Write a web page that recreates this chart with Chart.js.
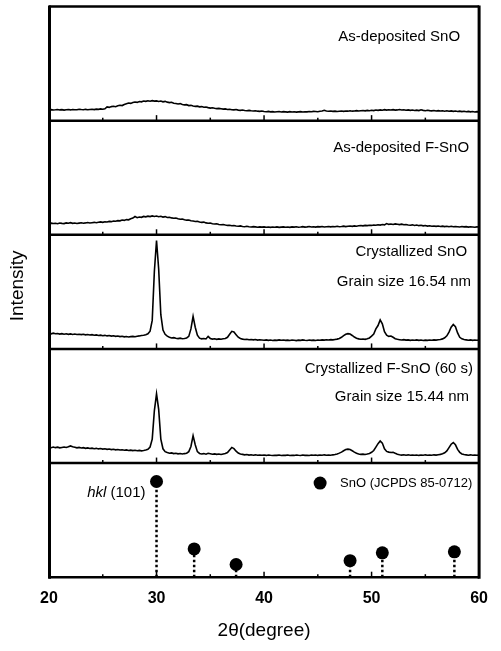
<!DOCTYPE html>
<html>
<head>
<meta charset="utf-8">
<script src="https://cdn.jsdelivr.net/npm/chart.js@4.4.1/dist/chart.umd.min.js"></script>
<style>
    html, body { margin: 0; padding: 0; background: #fff; }
    canvas { display: block; }
</style>
</head>
<body>
<canvas id="xrdChart" width="501" height="651"></canvas>
<script>
// scan grid (2theta, degree)
const scanStart = 20;
const scanStep = 0.2;

// intensities, a.u. (each panel 0-100)
const asDepSnO = [
    9.2, 9.6, 9.3, 9.5, 9.8, 9.4, 9.6, 9.2, 9.5, 9.7,
    9.4, 9.8, 9.5, 9.6, 10.0, 9.7, 9.5, 9.9, 9.6, 9.8,
    10.0, 9.7, 10.1, 9.9, 10.3, 10.0, 10.4, 12.0, 11.6, 12.3,
    12.6, 12.2, 13.0, 13.5, 13.2, 14.2, 14.8, 15.4, 15.1, 15.9,
    16.3, 16.0, 16.8, 16.5, 17.2, 16.9, 17.4, 17.0, 17.5, 17.1,
    17.3, 16.8, 17.2, 16.5, 16.9, 16.2, 15.8, 16.1, 15.3, 15.0,
    14.6, 14.9, 14.1, 13.8, 14.0, 13.2, 13.4, 12.8, 12.5, 12.7,
    12.1, 12.3, 11.7, 11.9, 11.4, 11.0, 11.3, 10.8, 10.5, 10.7,
    10.4, 10.1, 10.3, 9.8, 10.0, 9.6, 9.4, 9.7, 9.2, 9.0,
    9.3, 8.9, 8.7, 9.0, 8.6, 8.4, 8.7, 8.3, 8.1, 8.4,
    8.0, 7.8, 8.1, 7.7, 7.9, 7.6, 7.8, 8.0, 7.6, 7.9,
    7.7, 7.5, 7.9, 7.6, 7.8, 7.5, 7.7, 7.9, 7.6, 7.8,
    7.7, 8.0, 7.8, 8.1, 8.0, 7.8, 8.2, 8.4, 9.1, 8.5,
    8.2, 8.4, 8.1, 8.3, 8.0, 8.2, 8.4, 8.1, 8.5, 8.3,
    8.6, 8.3, 8.5, 8.8, 8.4, 8.7, 8.9, 8.6, 9.0, 8.7,
    9.1, 8.8, 9.3, 9.0, 9.4, 9.1, 9.6, 9.2, 9.5, 9.3,
    9.6, 9.2, 9.4, 9.8, 9.3, 9.5, 9.1, 9.4, 9.0, 9.3,
    8.9, 9.2, 8.8, 9.5, 9.0, 8.7, 9.1, 8.8, 8.6, 8.9,
    8.5, 8.8, 8.4, 8.7, 8.3, 8.6, 8.2, 8.5, 8.1, 8.4,
    8.0, 8.3, 7.9, 8.2, 7.8, 8.1, 7.7, 8.0, 7.6, 7.9,
    7.7
];

const asDepFSnO = [
    9.8, 10.2, 9.9, 10.1, 9.7, 10.3, 10.0, 9.8, 10.4, 10.1,
    10.6, 10.0, 10.3, 9.9, 10.2, 10.5, 10.1, 10.4, 10.8, 10.3,
    10.6, 10.9, 10.5, 11.0, 11.3, 10.9, 11.4, 11.2, 11.7, 11.5,
    12.0, 11.8, 12.4, 12.2, 12.9, 12.6, 13.3, 13.1, 14.0, 14.6,
    16.0, 15.0, 15.6, 15.3, 16.1, 15.7, 16.3, 15.9, 16.5, 16.0,
    16.4, 15.8, 16.2, 15.5, 15.9, 15.1, 15.4, 14.8, 14.5, 14.7,
    14.0, 13.6, 13.8, 13.1, 12.8, 13.0, 12.3, 12.0, 11.7, 11.9,
    11.2, 10.9, 11.1, 10.4, 10.1, 10.3, 9.7, 9.4, 9.6, 9.0,
    8.8, 9.0, 8.5, 8.2, 8.4, 7.9, 8.1, 7.7, 7.5, 7.8,
    7.3, 7.1, 7.4, 7.0, 6.8, 7.1, 6.9, 6.6, 6.9, 6.7,
    6.9, 6.6, 6.8, 6.5, 6.8, 6.6, 6.9, 6.5, 6.7, 6.9,
    6.6, 6.8, 6.5, 6.9, 6.7, 7.0, 6.6, 6.8, 7.1, 6.7,
    6.9, 7.2, 6.8, 7.0, 6.7, 7.1, 6.9, 7.3, 6.8, 7.0,
    7.2, 6.9, 7.3, 7.0, 7.4, 7.1, 7.3, 7.6, 7.2, 7.5,
    7.7, 7.4, 7.8, 7.5, 7.9, 8.1, 7.8, 8.2, 8.0, 8.4,
    8.2, 8.6, 8.3, 8.8, 8.5, 9.0, 8.7, 9.8, 9.1, 9.4,
    9.0, 9.5, 9.2, 8.9, 9.3, 8.8, 9.0, 8.6, 8.4, 8.7,
    8.2, 8.5, 8.0, 8.3, 7.8, 8.1, 7.6, 7.9, 7.5, 7.7,
    7.4, 7.7, 7.3, 7.6, 7.2, 7.5, 7.1, 7.4, 7.0, 7.3,
    7.1, 6.8, 7.2, 6.9, 7.1, 6.7, 7.0, 6.8, 6.6, 6.9,
    6.8
];

const crystSnO = [
    13.6, 13.2, 13.8, 13.3, 13.5, 13.0, 13.4, 12.9, 13.3, 12.8,
    13.2, 12.7, 13.0, 12.6, 12.9, 12.5, 12.8, 12.3, 12.6, 12.2,
    12.5, 12.0, 12.3, 11.8, 12.1, 11.6, 11.9, 11.4, 11.7, 11.2,
    11.5, 11.0, 11.3, 10.8, 11.1, 10.6, 10.9, 10.5, 10.8, 11.0,
    10.7, 11.1, 11.4, 11.8, 12.0, 12.4, 13.2, 15.5, 25.0, 68.0,
    95.0, 70.0, 30.0, 16.5, 12.8, 11.2, 10.3, 9.6, 9.9, 9.3,
    9.0, 9.4, 8.9, 9.2, 9.6, 11.0, 17.5, 28.5, 19.0, 12.0,
    9.4, 8.8, 9.1, 8.7, 11.0, 9.2, 8.6, 8.9, 8.4, 8.8,
    8.5, 8.9, 9.2, 10.2, 12.8, 15.4, 14.8, 12.5, 10.3, 9.1,
    8.6, 8.2, 8.5, 8.0, 8.3, 7.9, 8.2, 7.7, 8.0, 7.8,
    7.6, 7.9, 7.5, 7.8, 7.4, 7.7, 7.5, 7.9, 7.6, 7.8,
    7.5, 7.7, 7.4, 7.8, 7.6, 7.3, 7.7, 7.5, 7.9, 7.6,
    7.4, 7.8, 7.5, 7.7, 7.4, 7.8, 7.6, 7.9, 7.7, 8.0,
    7.8, 8.1, 7.9, 8.3, 8.6, 9.2, 10.2, 11.6, 12.8, 13.4,
    13.0, 11.8, 10.4, 9.4, 8.8, 8.5, 8.7, 8.4, 8.9, 9.6,
    11.2, 13.0, 17.5, 20.5, 25.4, 22.0, 15.0, 12.0, 11.0, 11.3,
    10.2, 9.0, 8.4, 8.1, 7.8, 8.1, 7.7, 7.9, 7.5, 7.8,
    7.6, 7.9, 7.5, 7.8, 7.4, 7.7, 7.5, 7.8, 7.6, 7.9,
    7.7, 8.0, 8.3, 8.8, 9.8, 11.5, 14.8, 19.0, 21.4, 19.5,
    14.0, 10.2, 8.8, 8.2, 7.9, 7.6, 7.9, 7.5, 7.8, 7.6,
    7.7
];

const crystFSnO = [
    13.8, 13.4, 14.0, 13.5, 13.9, 13.3, 13.7, 14.1, 13.6, 14.2,
    15.0, 14.3, 13.8, 13.3, 13.7, 13.2, 13.5, 12.9, 13.3, 12.8,
    13.1, 12.6, 12.9, 12.4, 12.7, 12.2, 12.5, 12.0, 12.3, 11.8,
    12.1, 11.6, 11.9, 11.4, 11.7, 11.2, 11.5, 11.0, 11.3, 10.9,
    11.2, 10.8, 11.1, 10.7, 11.0, 11.4, 12.0, 14.0, 21.0, 46.0,
    60.7, 47.0, 21.0, 12.5, 10.0, 9.2, 8.6, 8.9, 8.3, 8.6,
    8.1, 8.4, 7.9, 8.3, 8.6, 10.0, 14.5, 24.0, 16.0, 10.0,
    8.4, 8.0, 8.3, 7.8, 8.6, 8.2, 7.7, 8.0, 7.6, 7.9,
    7.5, 7.9, 8.3, 9.2, 11.5, 13.7, 12.6, 10.4, 8.8, 8.0,
    7.6, 7.2, 7.5, 7.0, 7.3, 6.9, 7.2, 6.8, 7.1, 6.8,
    7.0, 6.7, 7.1, 6.8, 6.6, 6.9, 6.7, 7.0, 6.6, 6.9,
    6.7, 7.0, 6.6, 6.9, 6.7, 7.1, 6.8, 6.6, 7.0, 6.7,
    6.9, 6.6, 7.0, 6.8, 7.1, 6.7, 7.0, 6.8, 7.2, 6.9,
    7.1, 6.8, 7.2, 7.5, 8.0, 8.7, 9.6, 10.8, 11.8, 12.2,
    11.8, 10.8, 9.6, 8.6, 8.0, 7.6, 7.8, 7.5, 7.9, 8.4,
    9.4, 11.0, 14.0, 17.0, 19.4, 17.5, 12.5, 10.2, 9.6, 9.2,
    9.5, 8.6, 7.8, 7.3, 7.0, 7.3, 6.9, 7.2, 6.8, 7.1,
    6.8, 7.1, 6.7, 7.0, 6.8, 7.2, 6.9, 7.1, 6.8, 7.2,
    7.0, 7.3, 7.6, 8.1, 9.0, 10.6, 13.5, 16.5, 18.0, 16.0,
    12.0, 9.4, 8.0, 7.5, 7.2, 6.9, 7.2, 6.8, 7.1, 6.9,
    7.0
];

// SnO reference pattern (JCPDS 85-0712)
const refPos = [30.0, 33.5, 37.4, 48.0, 51.0, 57.7];
const refInt = [100, 29.6, 13.3, 17.3, 25.5, 26.5];

// panel texts, top to bottom
const panelNames = ['As-deposited SnO', 'As-deposited F-SnO', 'Crystallized SnO', 'Crystallized F-SnO (60 s)'];
const grainSizes = ['Grain size 16.54 nm', 'Grain size 15.44 nm'];
const refLabel = 'SnO (JCPDS 85-0712)';
const peakLabel = ['hkl', ' (101)'];

const FONT = '"Liberation Sans", Arial, sans-serif';

function toPoints(values) {
    return values.map((v, i) => ({ x: +(scanStart + i * scanStep).toFixed(1), y: v }));
}

function scanSet(values, axis) {
    return {
        data: toPoints(values),
        yAxisID: axis,
        borderColor: '#000',
        borderWidth: 1.6,
        pointRadius: 0,
        tension: 0
    };
}

const datasets = [
    scanSet(asDepSnO, 'yAS'),
    scanSet(asDepFSnO, 'yAF'),
    scanSet(crystSnO, 'yCS'),
    scanSet(crystFSnO, 'yCF')
];

// dotted sticks for reference peaks
refPos.forEach((p, i) => {
    datasets.push({
        data: [{ x: p, y: 0 }, { x: p, y: refInt[i] }],
        yAxisID: 'yRef',
        borderColor: '#000',
        borderWidth: 2.5,
        borderDash: [2.5, 2.5],
        pointRadius: 0
    });
});

datasets.push({
    data: refPos.map((p, i) => ({ x: p, y: refInt[i] })),
    yAxisID: 'yRef',
    showLine: false,
    pointRadius: 6.5,
    pointBackgroundColor: '#000',
    pointBorderWidth: 0
});

function panelAxis(max) {
    return {
        type: 'linear',
        display: false,
        stack: 'xrd',
        stackWeight: 1,
        min: 0,
        max: max
    };
}

function strokeLine(ctx, x1, y1, x2, y2) {
    ctx.beginPath();
    ctx.moveTo(x1, y1);
    ctx.lineTo(x2, y2);
    ctx.stroke();
}

const framePlugin = {
    id: 'xrdFrame',
    afterDatasetsDraw(chart) {
        const { ctx, chartArea: a, scales } = chart;
        const xs = scales.x;
        const panels = ['yAS', 'yAF', 'yCS', 'yCF', 'yRef'];

        ctx.save();
        ctx.strokeStyle = '#000';
        ctx.fillStyle = '#000';

        // panel separators + inward ticks
        panels.forEach(id => {
            const s = scales[id];
            ctx.lineWidth = 2.5;
            strokeLine(ctx, a.left, s.bottom, a.right, s.bottom);
            ctx.lineWidth = 1.5;
            xs.ticks.forEach(t => {
                const px = xs.getPixelForValue(t.value);
                const len = t.value % 10 === 0 ? 5.5 : 3;
                strokeLine(ctx, px, s.bottom, px, s.bottom - len);
            });
        });
        ctx.lineWidth = 2.5;
        strokeLine(ctx, a.left, a.top, a.right, a.top);
        ctx.lineWidth = 3;
        strokeLine(ctx, a.left + 0.5, a.top - 1, a.left + 0.5, a.bottom + 1.5);
        strokeLine(ctx, a.right, a.top - 1, a.right, a.bottom + 1.5);

        // sample names
        ctx.font = '15px ' + FONT;
        ctx.textAlign = 'right';
        ctx.textBaseline = 'middle';
        ctx.fillText(panelNames[0], a.right - 19, scales.yAS.top + 30);
        ctx.fillText(panelNames[1], a.right - 10, scales.yAF.top + 27);
        ctx.fillText(panelNames[2], a.right - 12, scales.yCS.top + 17);
        ctx.fillText(grainSizes[0], a.right - 8, scales.yCS.top + 47);
        ctx.fillText(panelNames[3], a.right - 6, scales.yCF.top + 20);
        ctx.fillText(grainSizes[1], a.right - 10, scales.yCF.top + 48);

        // reference legend
        const yr = scales.yRef;
        ctx.beginPath();
        ctx.arc(a.right - 159, yr.top + 20, 6.5, 0, Math.PI * 2);
        ctx.fill();
        ctx.font = '13px ' + FONT;
        ctx.textAlign = 'left';
        ctx.fillText(refLabel, a.right - 139, yr.top + 20);

        // hkl (101) label
        const dx = xs.getPixelForValue(refPos[0]) - 11;
        const dy = yr.getPixelForValue(refInt[0]) + 11;
        ctx.font = '15px ' + FONT;
        const w2 = ctx.measureText(peakLabel[1]).width;
        ctx.font = 'italic 15px ' + FONT;
        const w1 = ctx.measureText(peakLabel[0]).width;
        ctx.fillText(peakLabel[0], dx - w1 - w2, dy);
        ctx.font = '15px ' + FONT;
        ctx.fillText(peakLabel[1], dx - w2, dy);

        // y title
        ctx.translate(17.5, (a.top + a.bottom) / 2 - 6);
        ctx.rotate(-Math.PI / 2);
        ctx.textAlign = 'center';
        ctx.font = '19px ' + FONT;
        ctx.fillText('Intensity', 0, 0);
        ctx.restore();
    }
};

const ctx = document.getElementById('xrdChart').getContext('2d');
new Chart(ctx, {
    type: 'line',
    data: { datasets: datasets },
    options: {
        responsive: false,
        animation: false,
        layout: { padding: { left: 49, right: 9, top: 2, bottom: 9 } },
        plugins: {
            legend: { display: false },
            tooltip: { enabled: false }
        },
        scales: {
            x: {
                type: 'linear',
                min: 20,
                max: 60,
                grid: { display: false, drawTicks: false },
                border: { display: false },
                ticks: {
                    stepSize: 5,
                    autoSkip: false,
                    maxRotation: 0,
                    padding: 13,
                    color: '#000',
                    font: { family: FONT, size: 16, weight: 'bold', lineHeight: 1.0 },
                    callback: v => (v % 10 === 0 ? v : '')
                },
                title: {
                    display: true,
                    text: '2θ(degree)',
                    color: '#000',
                    font: { family: FONT, size: 19 },
                    padding: { top: 0, bottom: 0 }
                }
            },
            // stacked panels, bottom one first
            yRef: panelAxis(119.3),
            yCF: panelAxis(100),
            yCS: panelAxis(100),
            yAF: panelAxis(100),
            yAS: panelAxis(100)
        }
    },
    plugins: [framePlugin]
});
</script>
</body>
</html>
